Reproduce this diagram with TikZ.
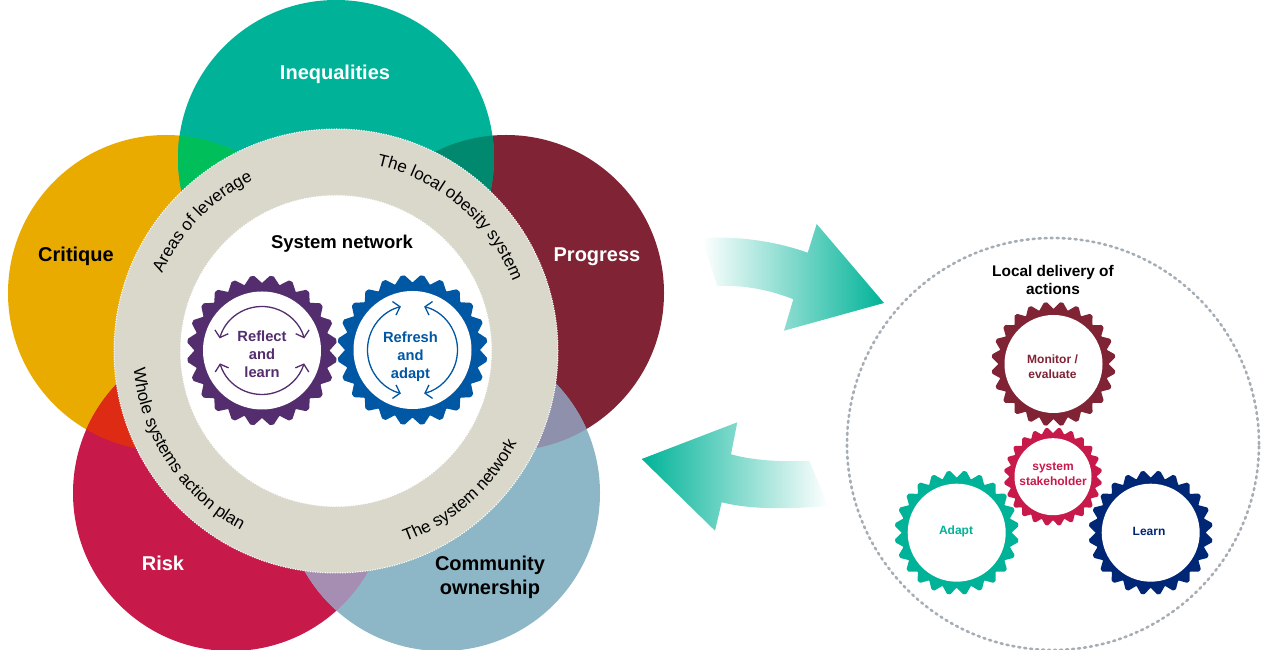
\documentclass[tikz,border=0pt]{standalone}
\usepackage{fontspec}
\setmainfont{Liberation Sans}
\usetikzlibrary{arrows.meta,decorations.text}

\definecolor{ineqteal}{HTML}{00B398}
\definecolor{critgold}{HTML}{EAAB00}
\definecolor{progmaroon}{HTML}{802334}
\definecolor{riskred}{HTML}{C8194B}
\definecolor{commblue}{HTML}{8DB7C7}
\definecolor{ringgrey}{HTML}{D9D8CB}
\definecolor{reflpurple}{HTML}{532D6D}
\definecolor{refrblue}{HTML}{0057A4}
\definecolor{learnnavy}{HTML}{002776}
\definecolor{dotgrey}{HTML}{A5ADB5}

\newcommand{\ringfont}{\fontsize{17}{20}\selectfont}
% centre, root radius, tip radius, colour
\newcommand{\cog}[4]{
    \fill[#4,rounded corners=0.6pt] ([shift={(0:#2)}]#1)
    \foreach \a in {7.5,22.5,...,352.5} {
        -- ([shift={(\a-7.5:#2)}]#1) -- ([shift={(\a-1.5:#3)}]#1)
        -- ([shift={(\a+1.5:#3)}]#1)
    } -- cycle;
}

\tikzset{
    petal/.style={font=\bfseries\fontsize{20}{24}\selectfont,align=center},
    bighole/.style={circle,fill=white,minimum size=118pt,inner sep=0pt},
    smallhole/.style={circle,fill=white,minimum size=98pt,inner sep=0pt},
    biglabel/.style={align=center,font=\bfseries\fontsize{14.7}{18}\selectfont},
    smalllabel/.style={align=center,font=\bfseries\fontsize{12}{15}\selectfont},
    ringtext/.style={decorate,decoration={text along path,text align=center,text={|\ringfont|#1}}},
    cycle arrow/.style={line width=1.3pt,<->,>={Straight Barb[length=6pt,width=14pt,line width=1.3pt]}},
}

\begin{document}
\begin{tikzpicture}[x=1pt,y=1pt]
    \useasboundingbox (0,0) rectangle (1261,650);
    \clip (0,0) rectangle (1261,650);
    \coordinate (ineq) at (336,492);
    \coordinate (crit) at (166,357);
    \coordinate (prog) at (506,357);
    \coordinate (risk) at (231,157);
    \coordinate (comm) at (442,157);
    \coordinate (hub) at (336,299);
    % petals
    \fill[critgold] (crit) circle (158pt);
    \fill[progmaroon] (prog) circle (158pt);
    \fill[ineqteal] (ineq) circle (158pt);
    \fill[riskred] (risk) circle (158pt);
    \fill[commblue] (comm) circle (158pt);
    % overlaps
    \begin{scope}
        \clip (crit) circle (158pt);
        \fill[fill={rgb,255:red,0;green,190;blue,90}] (ineq) circle (158pt);
        \fill[fill={rgb,255:red,222;green,44;blue,20}] (risk) circle (158pt);
    \end{scope}
    \begin{scope}
        \clip (prog) circle (158pt);
        \fill[fill={rgb,255:red,0;green,137;blue,110}] (ineq) circle (158pt);
        \fill[fill={rgb,255:red,142;green,144;blue,172}] (comm) circle (158pt);
    \end{scope}
    \begin{scope}
        \clip (risk) circle (158pt);
        \fill[fill={rgb,255:red,166;green,141;blue,178}] (comm) circle (158pt);
    \end{scope}
    % ring
    \fill[ringgrey] (hub) circle (222pt);
    \draw[white,line width=1pt,dash pattern=on 1.2pt off 1.3pt] (hub) circle (222pt);
    \fill[white] (hub) circle (156pt);
    \draw[ringgrey,line width=1pt,dash pattern=on 1.2pt off 1.3pt] (hub) circle (156pt);
    % ring texts
    \path[ringtext=The local obesity system] ([shift={(85:190pt)}]hub) arc (85:14:190pt);
    \path[ringtext=Areas of leverage] ([shift={(166:190pt)}]hub) arc (166:106:190pt);
    \path[ringtext=Whole systems action plan] ([shift={(174:203pt)}]hub) arc (174:253:203pt);
    \path[ringtext=The system network] ([shift={(279:203pt)}]hub) arc (279:344:203pt);
    % petal labels
    \node[petal,white] (ineqlabel) at (335,576) {Inequalities};
    \node[petal] (critlabel) at (76,394) {Critique};
    \node[petal,white] (proglabel) at (597,393) {Progress};
    \node[petal,white] (risklabel) at (163,87) {Risk};
    \node[petal] (commlabel) at (490,73) {Community\\ownership};
    \node[font=\bfseries\fontsize{18.5}{22}\selectfont] (network) at (342,406) {System network};
    % reflect and refresh
    \cog{262,299.5}{67.5}{75}{reflpurple}
    \cog{412.5,300}{67.5}{75}{refrblue}
    \node[bighole] (reflect) at (262,299.5) {};
    \node[bighole] (refresh) at (412.5,300) {};
    \node[biglabel,text=reflpurple] (reflectlabel) at (262,296) {Reflect\\and\\learn};
    \node[biglabel,text=refrblue] (refreshlabel) at (410.5,293) {Refresh\\and\\adapt};
    \draw[cycle arrow,reflpurple] ([shift={(164:44pt)}]reflect.center) arc (164:16:44pt);
    \draw[cycle arrow,reflpurple] ([shift={(197:44pt)}]reflect.center) arc (197:343:44pt);
    \draw[cycle arrow,refrblue] ([shift={(105:45pt)}]refresh.center) arc (105:255:45pt);
    \draw[cycle arrow,refrblue] ([shift={(75:45pt)}]refresh.center) arc (75:-75:45pt);
    % arrows
    \shade[left color=white,right color=ineqteal] (701.7,412) .. controls (738,414) and (775,409) .. (807.7,397.3)
        -- (816.7,426) -- (884,347) -- (784,319.3) -- (793.3,350.7)
        .. controls (770,360) and (745,365) .. (717.3,364) -- cycle;
    \shade[left color=ineqteal,right color=white] (641.7,191) -- (737.3,227.7) -- (731,195.7)
        .. controls (755,189) and (785,188) .. (809.3,189.3) -- (828.3,144)
        .. controls (790,141) and (752,140) .. (721.7,147.7) -- (715,119.3) -- cycle;
    % local delivery
    \draw[dotgrey,line width=2.6pt,line cap=round,dash pattern=on 2pt off 4pt] (1053,206) circle (206pt);
    \node[align=center,font=\bfseries\fontsize{15.4}{18}\selectfont] (delivery) at (1053,370) {Local delivery of\\actions};
    \cog{1053.5,286}{55}{62}{progmaroon}
    \cog{956.7,117.3}{55}{62}{ineqteal}
    \cog{1150.7,117.3}{55}{62}{learnnavy}
    \cog{1053,173.3}{43.5}{49}{riskred}
    \node[smallhole] (monitor) at (1053.5,286) {};
    \node[smallhole] (adapt) at (956.7,117.3) {};
    \node[smallhole] (learn) at (1150.7,117.3) {};
    \node[smallhole,minimum size=77pt] (stakeholder) at (1053,173.3) {};
    \node[smalllabel,text=progmaroon] (monitorlabel) at (1052.5,283) {Monitor /\\evaluate};
    \node[smalllabel,text=ineqteal] (adaptlabel) at (956,118.5) {Adapt};
    \node[smalllabel,text=learnnavy] (learnlabel) at (1149,118.5) {Learn};
    \node[smalllabel,text=riskred] (stakeholderlabel) at (1053,176) {system\\stakeholder};
\end{tikzpicture}
\end{document}
